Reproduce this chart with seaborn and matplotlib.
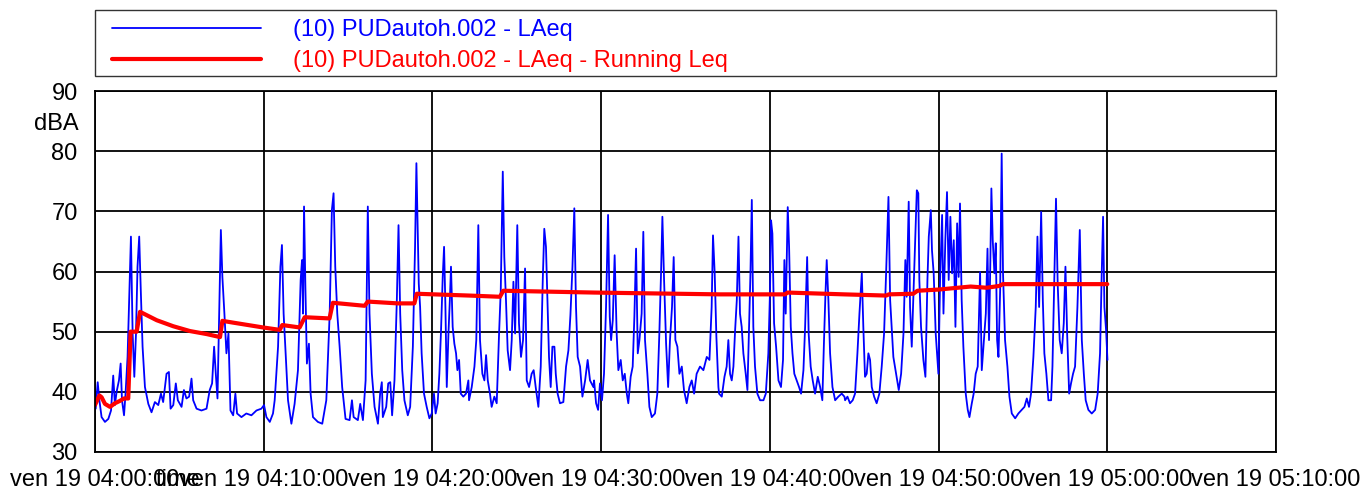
import matplotlib
matplotlib.use("Agg")
import matplotlib.pyplot as plt
import matplotlib.transforms as mtransforms
from matplotlib.patches import Rectangle
import pandas as pd
import seaborn as sns

# LAeq readings (minutes after 04:00, dBA)
laeq_min = [
    0.00, 0.04, 0.16, 0.26, 0.39, 0.59, 0.79, 0.95, 1.08, 1.18, 1.28, 1.42, 1.52, 1.60, 1.72, 1.81,
    1.93, 2.03, 2.13, 2.23, 2.33, 2.43, 2.52, 2.62, 2.72, 2.82, 2.96, 3.16, 3.35, 3.55, 3.75, 3.91,
    4.04, 4.24, 4.38, 4.48, 4.64, 4.79, 4.91, 5.13, 5.27, 5.42, 5.58, 5.72, 5.82, 6.02, 6.31, 6.61,
    6.80, 6.94, 7.06, 7.16, 7.26, 7.36, 7.46, 7.55, 7.67, 7.79, 7.91, 8.03, 8.19, 8.32, 8.42, 8.68,
    8.97, 9.27, 9.57, 9.86, 10.02, 10.16, 10.36, 10.55, 10.65, 10.85, 10.99, 11.08, 11.18, 11.30,
    11.44, 11.64, 11.83, 12.03, 12.19, 12.27, 12.33, 12.39, 12.47, 12.56, 12.68, 12.78, 12.92, 13.21,
    13.47, 13.71, 13.91, 14.04, 14.14, 14.24, 14.36, 14.50, 14.65, 14.85, 15.09, 15.23, 15.33, 15.58,
    15.72, 15.88, 16.04, 16.17, 16.27, 16.41, 16.57, 16.77, 16.90, 17.00, 17.06, 17.26, 17.38, 17.50,
    17.61, 17.75, 17.89, 17.99, 18.09, 18.21, 18.34, 18.54, 18.68, 18.84, 18.97, 19.05,
    19.19, 19.27, 19.36, 19.50, 19.66, 19.82, 19.96, 20.09, 20.19, 20.31, 20.41, 20.51, 20.61, 20.69,
    20.77, 20.85, 20.95, 21.04, 21.10, 21.20, 21.30, 21.40, 21.48, 21.58, 21.68, 21.83, 21.99, 22.13,
    22.17, 22.33, 22.49, 22.60, 22.72, 22.82, 22.96, 23.08, 23.18, 23.28, 23.41, 23.51, 23.67, 23.81,
    23.95, 24.05, 24.17, 24.26, 24.36, 24.46, 24.60, 24.70, 24.80, 24.90, 25.03, 25.13, 25.25, 25.37,
    25.49, 25.59, 25.73, 25.88, 26.00, 26.12, 26.28, 26.42, 26.54, 26.63, 26.73, 26.83, 26.91, 27.01,
    27.11, 27.23, 27.31, 27.42, 27.56, 27.76, 27.92, 28.06, 28.18, 28.30, 28.41, 28.51, 28.61, 28.75,
    28.89, 29.05, 29.20, 29.34, 29.54,
    29.58, 29.70, 29.82, 29.93, 30.05, 30.17, 30.29, 30.41, 30.51, 30.59, 30.69, 30.80, 30.92, 31.02,
    31.16, 31.28, 31.40, 31.52, 31.61, 31.75, 31.87, 31.97, 32.07, 32.17, 32.27, 32.40, 32.50, 32.60,
    32.74, 32.86, 33.00, 33.19, 33.33, 33.45, 33.55, 33.63, 33.73, 33.85, 33.97, 34.08, 34.20, 34.30,
    34.40, 34.52, 34.64, 34.78, 34.91, 35.07, 35.23, 35.37, 35.51, 35.66, 35.86, 36.06, 36.26, 36.42,
    36.55, 36.63, 36.73, 36.83, 36.95,
    36.99, 37.15, 37.31, 37.44, 37.54, 37.64, 37.74, 37.84, 37.94, 38.04, 38.14, 38.23, 38.33, 38.43,
    38.57, 38.67, 38.77, 38.85, 38.93, 39.02, 39.12, 39.26, 39.42, 39.62, 39.76, 39.91, 40.01, 40.07,
    40.15, 40.25, 40.37, 40.51, 40.66, 40.78, 40.86, 40.94, 41.06, 41.14, 41.24, 41.34, 41.45, 41.59,
    41.73, 41.85, 41.99, 42.09, 42.21, 42.30, 42.42, 42.54, 42.68, 42.84, 42.98, 43.11, 43.21, 43.29,
    43.37, 43.47, 43.57, 43.71, 43.87, 44.06, 44.26, 44.42,
    44.46, 44.60, 44.75, 44.91, 45.05, 45.19, 45.31, 45.45, 45.54, 45.64, 45.74, 45.84, 45.94, 46.04,
    46.18, 46.33, 46.49, 46.63, 46.77, 46.89, 47.03, 47.13, 47.22, 47.32, 47.48, 47.64, 47.78, 47.92,
    48.03, 48.11, 48.23, 48.31, 48.41, 48.51, 48.61, 48.71, 48.80, 48.86, 48.96, 49.10, 49.22, 49.34,
    49.42, 49.54, 49.61, 49.71, 49.83, 49.99, 50.09, 50.21, 50.29, 50.40, 50.50, 50.60, 50.70, 50.80,
    50.90, 51.00, 51.10, 51.19, 51.27, 51.37, 51.47, 51.61, 51.73, 51.83,
    51.97, 52.08, 52.20, 52.32, 52.46, 52.56, 52.66, 52.80, 52.90, 52.99, 53.07, 53.13, 53.21, 53.31,
    53.39, 53.47, 53.55, 53.65, 53.74, 53.82, 53.94, 54.08, 54.20, 54.34, 54.54, 54.73, 54.93, 55.09,
    55.23, 55.36, 55.48, 55.62, 55.76, 55.86, 55.96, 56.08, 56.18, 56.27, 56.39, 56.51, 56.67, 56.75,
    56.87, 56.96, 57.06, 57.18, 57.30, 57.42, 57.52, 57.62, 57.74, 57.85, 57.97, 58.09, 58.23, 58.37,
    58.49, 58.61, 58.72, 58.88, 59.08, 59.28, 59.43, 59.57, 59.67, 59.75, 59.83, 59.93, 60.01,
]
laeq_db = [
    37.2, 37.2, 41.6, 38.6, 35.8, 35.0, 35.5, 36.9, 42.7, 37.8, 40.0, 41.9, 44.7, 38.6, 36.1, 39.7,
    45.8, 55.8, 65.8, 49.7, 42.5, 49.7, 60.8, 65.8, 56.3, 47.5, 40.8, 38.0, 36.6, 38.3, 37.8, 39.7,
    38.3, 43.0, 43.3, 37.2, 37.8, 41.4, 38.6, 37.5, 40.3, 38.9, 39.2, 42.2, 38.6, 37.2, 36.9, 37.2,
    40.3, 41.4, 47.5, 43.0, 38.9, 53.0, 66.9, 59.1, 53.0, 46.4, 49.7, 36.9, 36.1, 39.7, 36.4, 35.8,
    36.4, 36.1, 36.9, 37.2, 37.8, 35.8, 35.0, 36.4, 38.6, 47.5, 60.8, 64.4, 53.0, 46.4,
    38.6, 34.7, 38.0, 43.6, 58.6, 61.9, 53.0, 70.8, 57.4, 44.7, 48.0, 39.7, 35.8, 35.0,
    34.7, 38.6, 53.0, 70.2, 73.0, 60.8, 53.0, 47.5, 40.8, 35.5, 35.3, 38.6, 35.8, 35.3,
    38.0, 35.3, 41.9, 70.8, 53.0, 43.0, 37.5, 34.7, 39.7, 41.6, 35.8, 37.5, 41.4, 41.6,
    36.1, 41.9, 55.2, 67.7, 53.0, 43.6, 38.6, 36.1, 37.5, 47.5, 64.1, 78.0,
    58.0, 54.1, 46.4, 39.7, 37.5, 35.6, 36.4, 39.7, 36.4, 38.1, 43.0, 50.2, 59.1, 64.1,
    54.1, 40.8, 49.7, 55.8, 60.8, 50.8, 48.0, 46.4, 43.6, 45.3, 39.7, 39.2, 39.7, 41.9,
    38.6, 40.8, 44.2, 48.6, 67.7, 48.6, 43.0, 41.9, 46.1, 41.9, 39.7, 37.5, 39.2, 38.1,
    49.7, 56.9, 76.6, 62.4, 55.2, 46.9, 43.6, 48.6, 58.3, 49.7, 67.7, 51.4, 45.8, 48.6,
    60.5, 41.9, 40.8, 43.0, 43.6, 40.8, 37.5, 44.2, 58.6, 67.1, 64.1, 54.1, 45.8, 40.8,
    47.5, 47.5, 43.0, 39.7, 38.1, 38.3, 44.2, 46.9, 52.8, 60.8, 70.5, 54.1, 45.8, 44.2,
    39.2, 41.9, 45.3, 41.9, 40.8,
    41.9, 38.1, 37.0, 41.4, 38.6, 43.0, 54.1, 69.4, 52.5, 48.6, 51.9, 62.7, 49.7, 43.6,
    45.3, 41.9, 43.0, 39.7, 38.1, 42.5, 44.2, 52.5, 63.8, 46.4, 48.6, 53.0, 66.6, 48.6,
    43.0, 37.5, 35.8, 36.4, 39.7, 49.7, 59.7, 69.1, 58.6, 48.0, 40.8, 48.6, 54.1, 62.4,
    48.6, 47.5, 43.0, 44.2, 40.3, 38.1, 40.8, 41.9, 39.7, 43.0, 44.2, 43.6, 45.8, 45.3,
    54.1, 66.0, 59.7, 49.2, 40.8,
    39.7, 39.2, 42.5, 44.2, 48.6, 43.0, 41.9, 44.2, 50.2, 55.2, 65.8, 53.0, 50.8, 46.4,
    43.0, 40.3, 50.8, 59.7, 71.9, 50.8, 44.2, 39.7, 38.6, 38.6, 39.7, 46.4, 56.9, 68.5,
    66.3, 51.4, 47.5, 41.9, 40.8, 45.3, 61.9, 53.0, 70.7, 64.1, 50.8, 46.4, 43.0, 41.9,
    40.8, 39.7, 43.6, 50.8, 62.4, 49.7, 44.2, 41.9, 39.7, 42.5, 40.8, 38.6, 48.6, 55.8,
    61.9, 55.2, 46.4, 40.8, 38.6, 39.2, 39.7, 39.2,
    38.6, 39.2, 38.1, 38.6, 39.7, 46.4, 53.0, 59.7, 50.8, 42.5, 43.0, 46.4, 45.3, 40.8,
    39.2, 38.1, 39.7, 44.2, 49.7, 59.7, 72.4, 55.2, 50.8, 45.8, 43.0, 40.3, 43.0, 49.7,
    61.9, 55.8, 71.6, 54.1, 47.5, 56.3, 65.2, 73.5, 73.0, 58.6, 50.8, 45.3, 42.5, 58.6,
    65.8, 70.2, 63.5, 59.7, 49.7, 43.0, 58.6, 69.4, 53.0, 65.2, 73.2, 58.6, 69.1, 59.7,
    65.2, 50.8, 68.0, 59.1, 71.3, 55.2, 47.5, 39.7, 37.0, 35.8,
    38.1, 39.7, 43.0, 44.2, 59.9, 43.6, 47.5, 53.0, 63.8, 48.6, 61.9, 73.8, 65.2, 59.7,
    64.7, 48.6, 45.8, 56.9, 79.6, 59.7, 48.6, 44.2, 39.2, 36.4, 35.6, 36.4, 37.0, 37.5,
    38.9, 37.5, 39.7, 45.8, 54.1, 65.8, 54.1, 69.9, 55.2, 46.4, 43.0, 38.6, 38.6, 44.2,
    59.7, 72.1, 58.0, 48.6, 46.4, 51.4, 60.8, 49.7, 39.7, 41.4, 43.0, 44.2, 54.1, 66.9,
    48.6, 43.0, 38.6, 37.0, 36.4, 37.0, 39.7, 46.4, 59.7, 69.1, 54.1, 50.2, 45.3,
]

# Running Leq readings
leq_min = [0.00, 0.26, 0.39, 0.59, 0.89, 1.18, 1.48, 1.72, 1.97, 2.11, 2.47, 2.67, 3.66, 4.64,
           5.63, 6.62, 7.41, 7.55, 8.19, 9.96, 10.95, 11.10, 12.13, 12.43, 13.90, 14.10, 15.98,
           16.17, 17.95, 18.93, 19.07, 22.2, 24.0, 24.2, 29.6, 37.0, 40.9, 41.05, 44.4, 46.9,
           47.05, 48.5, 48.75, 50.0, 51.9, 52.85, 53.6, 53.8, 60.0]
leq_db = [37.8, 39.4, 39.1, 38.0, 37.5, 38.1, 38.5, 38.9, 38.9, 50.0, 50.0, 53.3, 51.9, 50.9,
          50.1, 49.6, 49.1, 51.8, 51.5, 50.7, 50.3, 51.1, 50.7, 52.4, 52.2, 54.8, 54.3,
          55.0, 54.7, 54.7, 56.3, 56.0, 55.8, 56.8, 56.5, 56.2, 56.2, 56.5, 56.2, 56.0,
          56.2, 56.3, 56.8, 57.0, 57.5, 57.3, 57.6, 57.9, 57.9]

x_ticks = [0, 10, 20, 30, 40, 50, 60, 70]
x_labels = ["ven 19 04:00:00", "ven 19 04:10:00", "ven 19 04:20:00", "ven 19 04:30:00",
            "ven 19 04:40:00", "ven 19 04:50:00", "ven 19 05:00:00", "ven 19 05:10:00"]
y_ticks = [30, 40, 50, 60, 70, 80, 90]

label_laeq = "(10) PUDautoh.002 - LAeq"
label_leq = "(10) PUDautoh.002 - LAeq - Running Leq"

sns.set_style("white")
plt.rcParams["font.family"] = ["Liberation Sans", "DejaVu Sans"]
plt.rcParams["text.color"] = "black"
FS = 17
W, H = 1365, 492

df_laeq = pd.DataFrame({"t": laeq_min, "db": laeq_db})
df_leq = pd.DataFrame({"t": leq_min, "db": leq_db})

fig = plt.figure(figsize=(13.65, 4.92), dpi=100)
ax = fig.add_axes([95 / W, 1 - 452 / H, (1276 - 95) / W, (452 - 91) / H])

sns.lineplot(data=df_laeq, x="t", y="db", color="#0000ff", lw=1.3, ax=ax,
             label=label_laeq, estimator=None, legend=False)
sns.lineplot(data=df_leq, x="t", y="db", color="#ff0000", lw=3, ax=ax,
             label=label_leq, estimator=None, legend=False)

ax.set_xlim(0, 70)
ax.set_ylim(30, 90)
ax.set_xticks(x_ticks)
ax.set_xticklabels(x_labels)
ax.set_xticks(range(0, 71, 2), minor=True)
ax.set_yticks(y_ticks)
ax.set_yticks(range(30, 91, 2), minor=True)
ax.tick_params(which="major", length=10.5, width=1, color="#666666", labelsize=FS,
               labelcolor="black", pad=2)
ax.tick_params(which="minor", length=5.8, width=1, color="#666666")
ax.grid(True, which="major", color="black", lw=1.3)
for s in ax.spines.values():
    s.set_color("black")
    s.set_linewidth(1.3)
ax.set_ylabel("")
ax.set_xlabel("time", fontsize=FS, color="black")
ax.xaxis.set_label_coords(0.07, -0.046)
ax.xaxis.label.set_va("top")

trans = mtransforms.blended_transform_factory(ax.transAxes, ax.transData)
ax.text(-0.014, 84.5, "dBA", transform=trans, ha="right", va="center", fontsize=FS,
        color="black")

# legend box drawn separately, entries placed inside it
fig.patches.append(Rectangle((95 / W, 1 - 76 / H), (1276 - 95) / W, 66 / H,
                             transform=fig.transFigure, fill=False,
                             edgecolor="#333333", lw=1))
h, l = ax.get_legend_handles_labels()
fig.legend(h, l, loc="upper left", bbox_to_anchor=(112 / W, 1 - 19 / H),
           fontsize=FS, handlelength=6.3, handletextpad=1.36, labelspacing=0.4,
           borderpad=0, borderaxespad=0, frameon=False, labelcolor="linecolor")

fig.savefig("out.png", dpi=100)
